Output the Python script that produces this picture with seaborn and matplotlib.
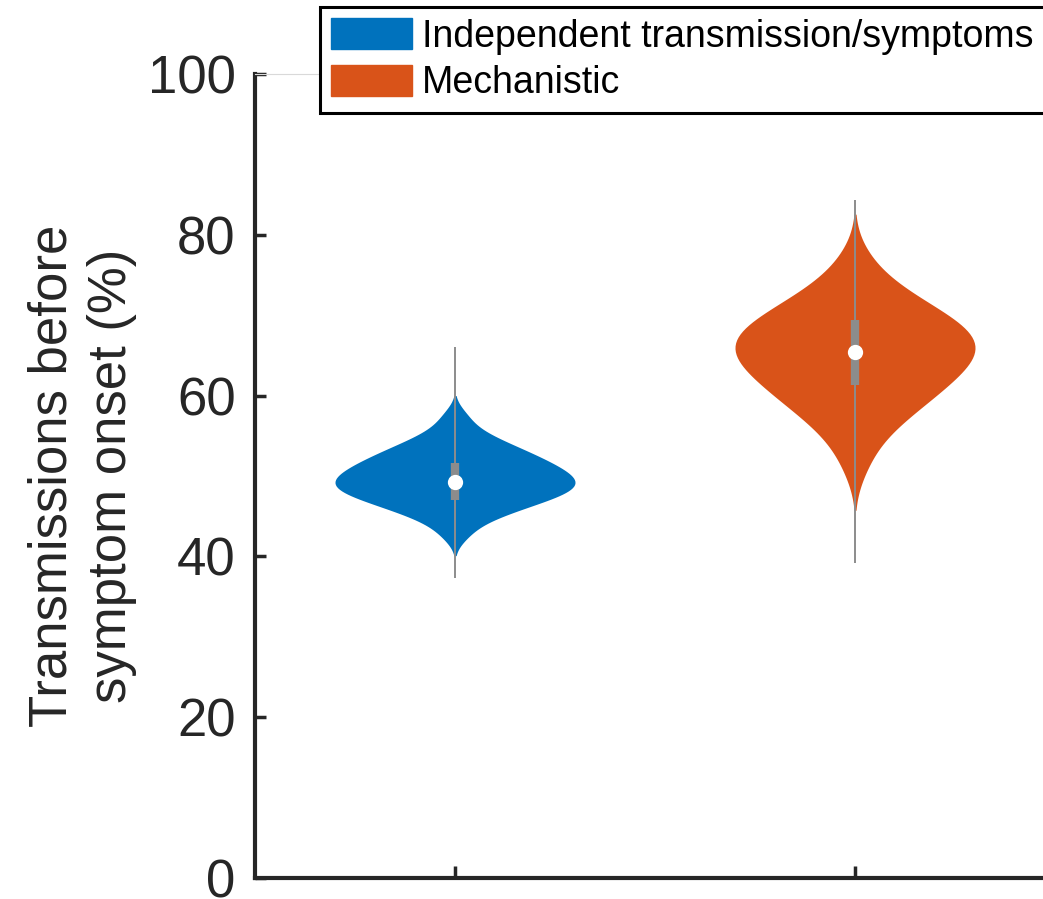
import numpy as np
import pandas as pd
import matplotlib
matplotlib.use("Agg")
import matplotlib.pyplot as plt
import seaborn as sns
from matplotlib.patches import Patch

# ---- data ----
categories = ["Independent transmission/symptoms", "Mechanistic"]
colors = ["#0072BD", "#D95319"]

# samples approximating the violin shapes
independent_values = [42.6, 44.1, 44.8, 45.4, 45.8, 46.2, 46.5, 46.8, 47.1, 47.3,
                      47.6, 47.8, 48.0, 48.2, 48.5, 48.6, 48.8, 49.0, 49.2, 49.4,
                      49.6, 49.8, 50.0, 50.2, 50.5, 50.7, 50.9, 51.1, 51.4, 51.6,
                      51.9, 52.2, 52.5, 52.8, 53.1, 53.5, 53.9, 54.4, 55.0, 55.9, 57.5]
mechanistic_values = [51.2, 54.1, 55.6, 56.8, 57.7, 58.4, 59.1, 59.7, 60.2, 60.8,
                      61.2, 61.8, 62.2, 62.6, 63.1, 63.5, 63.8, 64.3, 64.6, 65.0,
                      65.4, 65.7, 66.0, 66.3, 66.7, 67.0, 67.3, 67.7, 68.1, 68.4,
                      68.8, 69.2, 69.7, 70.1, 70.6, 71.2, 71.8, 72.5, 73.5, 74.7, 77.1]

# box summaries
medians = [49.3, 65.4]
q1 = [47.0, 61.3]
q3 = [51.6, 69.4]
whisker_lo = [37.3, 39.2]
whisker_hi = [66.0, 84.3]
bandwidth_adjust = [0.8, 1.0]
yticks = [0, 20, 40, 60, 80, 100]
ylabel = "Transmissions before\nsymptom onset (%)"

# ---- plotting ----
sns.set_style("ticks")
plt.rcParams["font.family"] = ["Liberation Sans", "DejaVu Sans"]

fig = plt.figure(figsize=(10.43, 8.99), dpi=100)
ax = fig.add_axes([255 / 1043, 21 / 899, 1000 / 1043, 804 / 899])

df = pd.DataFrame({
    "model": [categories[0]] * len(independent_values) + [categories[1]] * len(mechanistic_values),
    "value": independent_values + mechanistic_values,
})

for cat, col, bwa in zip(categories, colors, bandwidth_adjust):
    sns.violinplot(data=df[df["model"] == cat], x="model", y="value", order=categories,
                   color=col, width=0.6, inner=None, linewidth=0, saturation=1,
                   density_norm="width", bw_adjust=bwa, ax=ax)

gray = "#8c8c8c"
for i in range(len(categories)):
    ax.plot([i, i], [whisker_lo[i], whisker_hi[i]], color=gray, lw=1.4,
            solid_capstyle="butt", zorder=3)
    ax.plot([i, i], [q1[i], q3[i]], color=gray, lw=6, solid_capstyle="butt", zorder=4)
    ax.plot(i, medians[i], "o", color="white", ms=11, mec="none", zorder=5)

ax.set_xlim(-0.5, 2.0)
ax.set_ylim(0, 100)
ax.set_yticks(yticks)
ax.set_xticks([0, 1])
ax.set_xticklabels([])
ax.set_xlabel("")
dark = "#262626"
ax.tick_params(axis="both", direction="in", width=2.5, color=dark,
               labelsize=38, labelcolor=dark, pad=14)
ax.tick_params(axis="y", length=8)
ax.tick_params(axis="x", length=9)
for s in ["left", "bottom"]:
    ax.spines[s].set_linewidth(3)
    ax.spines[s].set_color(dark)
ax.spines["top"].set_visible(True)
ax.spines["top"].set_color("#d9d9d9")
ax.spines["top"].set_linewidth(0.8)
ax.spines["right"].set_visible(False)

ax.set_ylabel(ylabel, fontsize=38, color=dark, linespacing=1.25)
ax.yaxis.set_label_coords(-0.118, 0.5)

handles = [Patch(facecolor=c, edgecolor=c, label=cat) for cat, c in zip(categories, colors)]
leg = fig.legend(handles=handles, loc="upper left", bbox_to_anchor=(320 / 1043, 1 - 7 / 899),
                 frameon=True, fancybox=False, edgecolor="black", framealpha=1,
                 fontsize=27, handlelength=2.15, handleheight=0.88, handletextpad=0.27,
                 labelspacing=0.28, borderpad=0.3, borderaxespad=0)
leg.get_frame().set_linewidth(2.2)
for t in leg.get_texts():
    t.set_color("black")

fig.savefig("out.png", dpi=100)
